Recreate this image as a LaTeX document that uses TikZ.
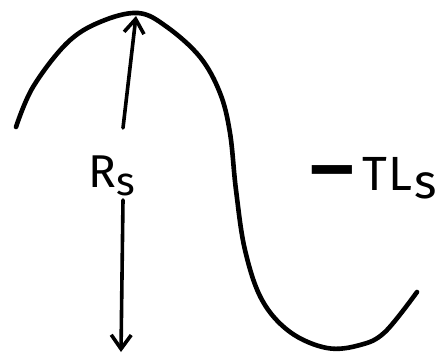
\documentclass[tikz,border=0pt]{standalone}
\usepackage{fontspec}
\setmainfont{Fira Sans}
\usetikzlibrary{arrows.meta}
\begin{document}
\begin{tikzpicture}[x=0.5pt,y=-0.5pt,
  curve/.style={line width=2.3pt,line cap=round,line join=round},
  arr/.style={line width=1.8pt,line cap=round,-{Straight Barb[length=7pt,width=10pt,line width=1.8pt]}},
  lbl/.style={inner sep=0pt,font=\fontsize{23}{23}\selectfont}]
\useasboundingbox (0,0) rectangle (440,359);
\draw[curve] plot[smooth,tension=0.6] coordinates {(16,127) (33,87) (67,43) (100,22) (138,13) (167,27) (200,57) (220,93) (230,133) (236,190) (245,250) (262,300) (290,332) (327,348) (360,345) (385,332) (417,292)};
\coordinate (peak) at (136,16);
\coordinate (upstart) at (123,128);
\coordinate (dnstart) at (123,200);
\coordinate (base) at (121,352);
\node[lbl,anchor=base west] (rs) at (88,187) {R\raisebox{-4pt}{\fontsize{20}{20}\selectfont s}};
\node[lbl,anchor=base west,font=\fontsize{24}{24}\selectfont] (tls) at (310,190) {\raisebox{-1pt}{\scalebox{1.4}[1.2]{\fontsize{30}{30}\selectfont\bfseries –}}\hspace{4pt}T\hspace{1pt}L\hspace{1pt}\raisebox{-4pt}{s}};
\draw[arr] (upstart) -- (peak);
\draw[arr] (dnstart) -- (base);
\end{tikzpicture}
\end{document}
